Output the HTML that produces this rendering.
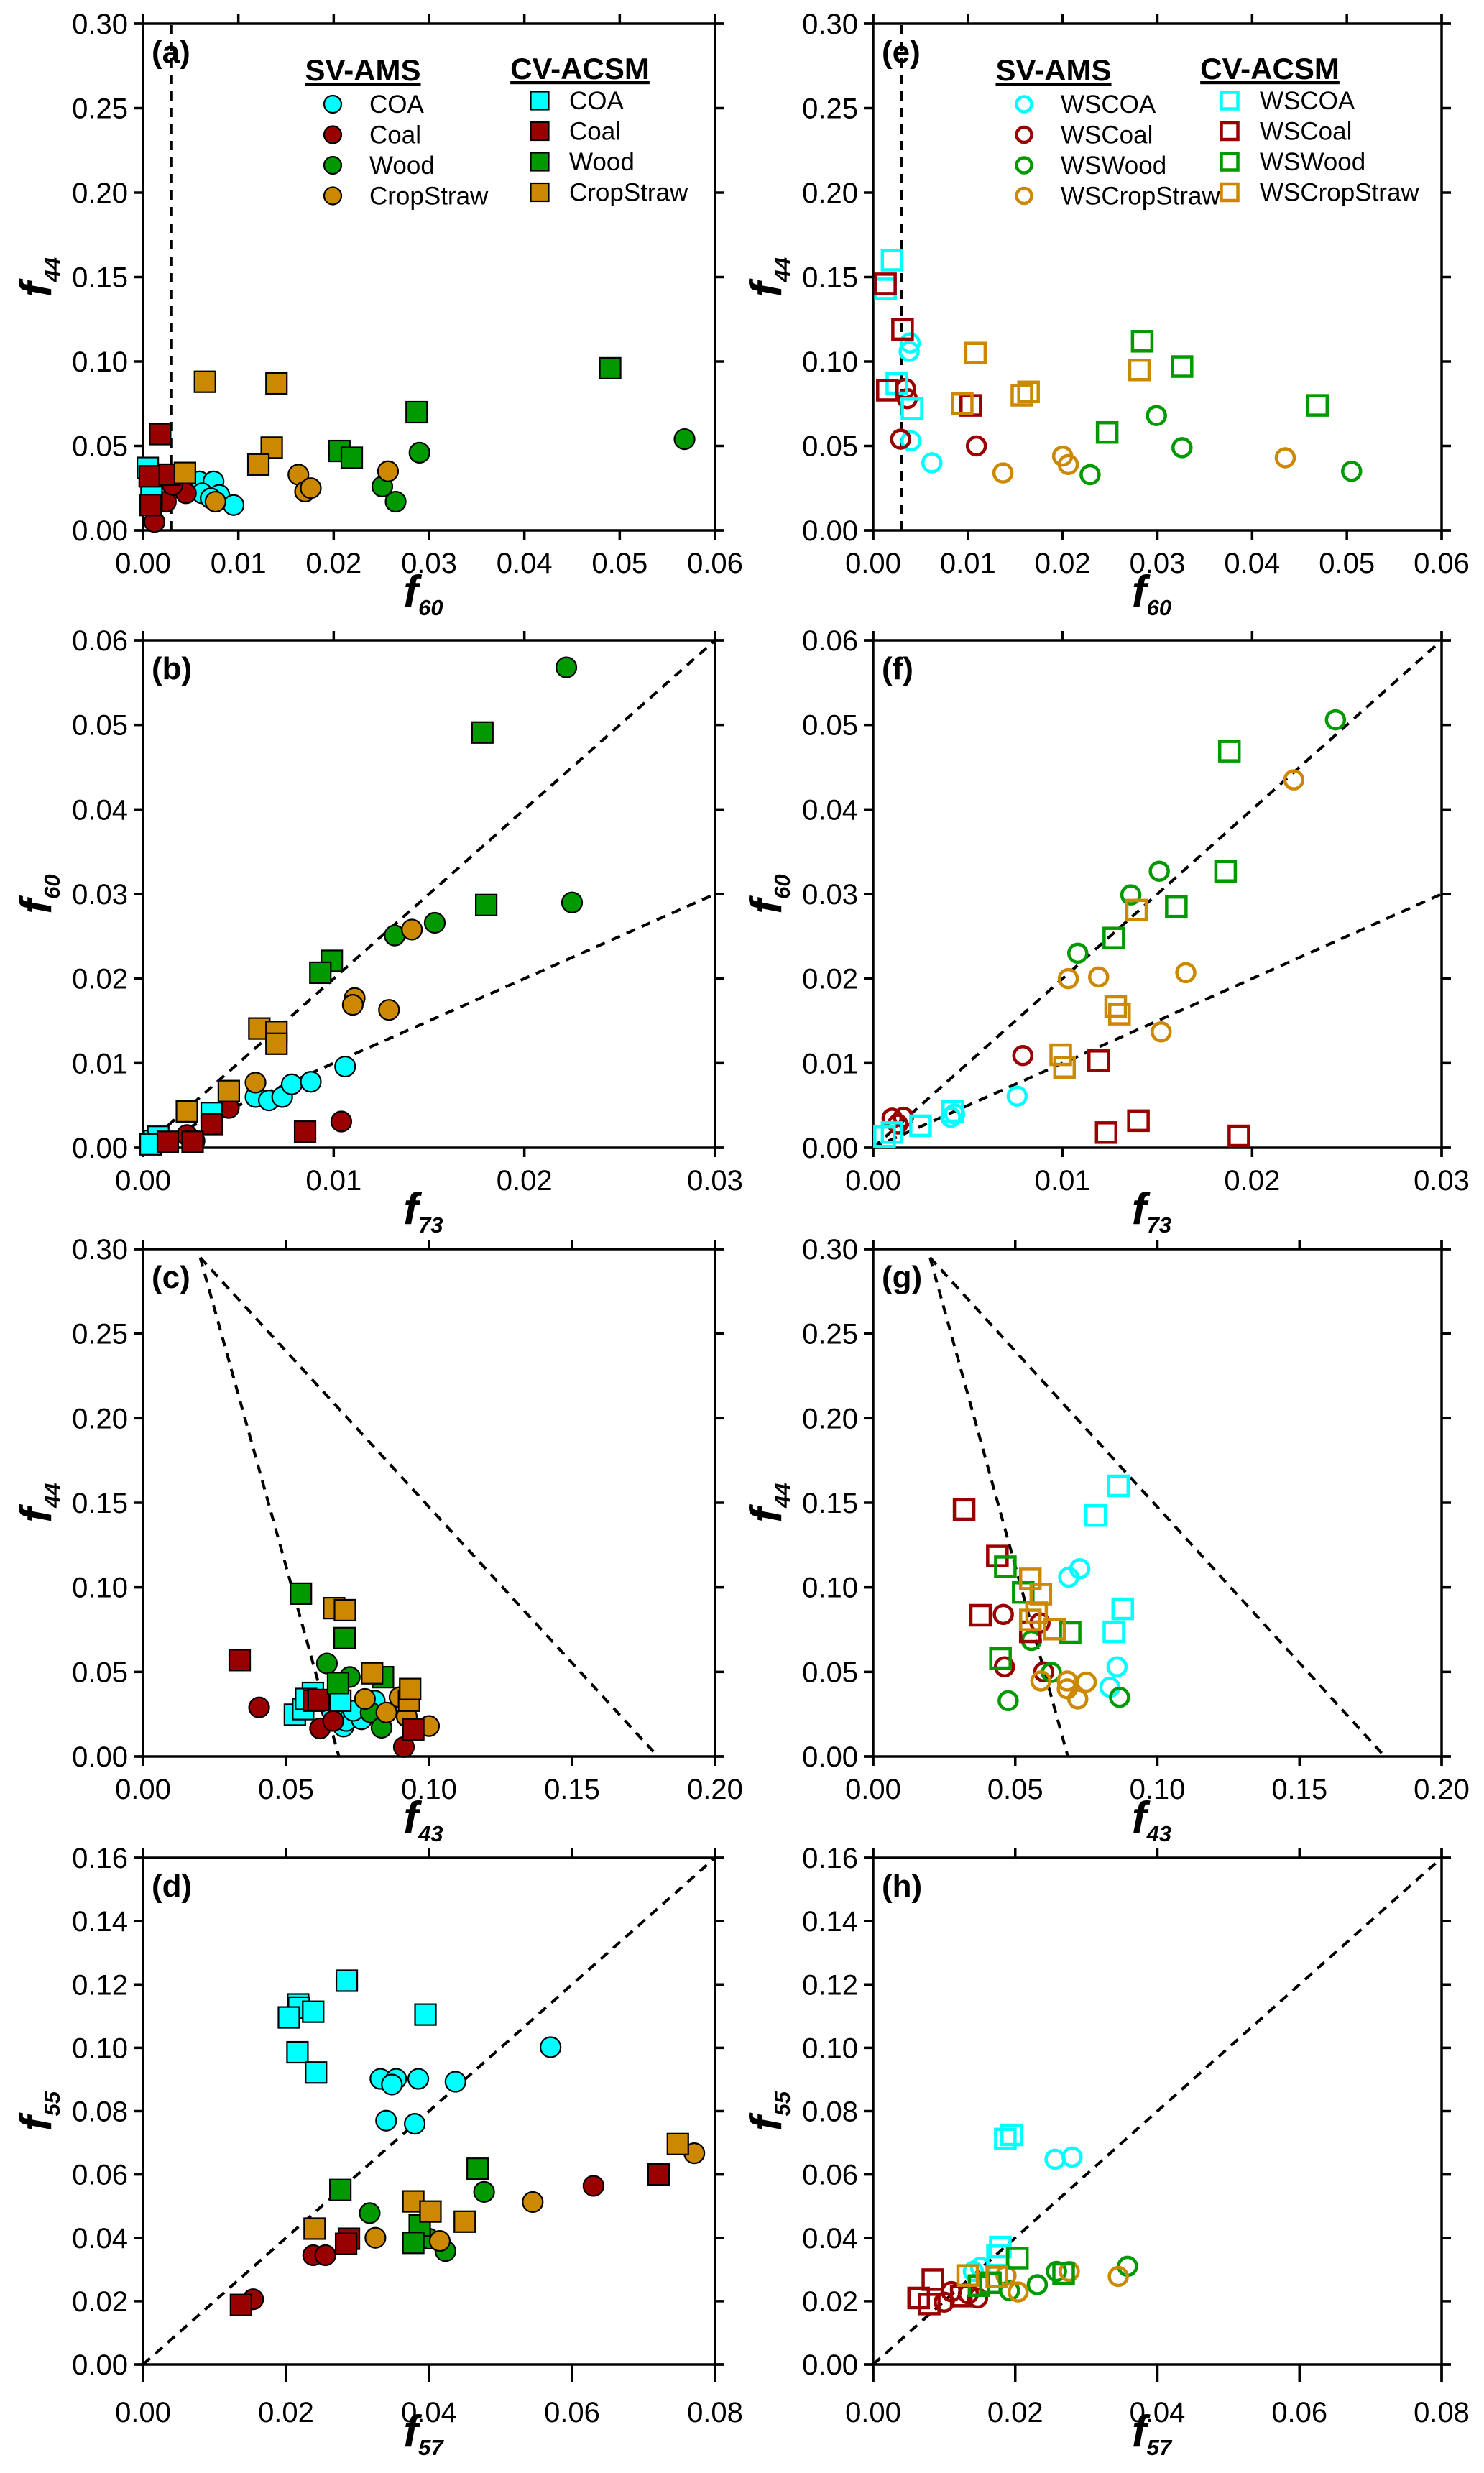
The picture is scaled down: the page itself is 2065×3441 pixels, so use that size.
<!DOCTYPE html>
<html><head><meta charset="utf-8"><style>
html,body{margin:0;padding:0;background:#fff;}
svg{display:block;}
text{font-family:"Liberation Sans",sans-serif;}
</style></head>
<body>
<svg id="fig" width="2065" height="3441" viewBox="0 0 2065 3441" xmlns="http://www.w3.org/2000/svg"></svg>
<script>
// ---------- DATA ----------
const a_COA_c=[[0.0059,0.029],[0.0074,0.029],[0.0062,0.022],[0.0080,0.021],[0.0095,0.015],[0.0071,0.019]];
const a_Coal_c=[[0.0012,0.005],[0.0024,0.017],[0.0045,0.022],[0.0031,0.027]];
const a_Wood_c=[[0.029,0.046],[0.0251,0.026],[0.0265,0.017],[0.0568,0.054]];
const a_Crop_c=[[0.0163,0.033],[0.0170,0.023],[0.0176,0.025],[0.0257,0.035],[0.0076,0.017]];
const a_COA_s=[[0.0005,0.037],[0.0009,0.025],[0.0009,0.020]];
const a_Coal_s=[[0.0018,0.057],[0.0007,0.032],[0.0028,0.033],[0.0008,0.015]];
const a_Wood_s=[[0.049,0.096],[0.0287,0.070],[0.0206,0.047],[0.0219,0.043]];
const a_Crop_s=[[0.0065,0.088],[0.014,0.087],[0.0135,0.049],[0.0121,0.039],[0.0044,0.034]];
const e_COA_c=[[0.0039,0.111],[0.0038,0.106],[0.004,0.053],[0.0062,0.040]];
const e_Coal_c=[[0.0034,0.084],[0.0036,0.078],[0.0029,0.054],[0.0109,0.050]];
const e_Wood_c=[[0.0299,0.068],[0.0326,0.049],[0.0229,0.033],[0.0505,0.035]];
const e_Crop_c=[[0.0137,0.034],[0.020,0.044],[0.0206,0.039],[0.0435,0.043]];
const e_COA_s=[[0.002,0.160],[0.0013,0.143],[0.0025,0.087],[0.0041,0.072]];
const e_Coal_s=[[0.0013,0.146],[0.0031,0.119],[0.0015,0.083],[0.0103,0.074]];
const e_Wood_s=[[0.0284,0.112],[0.0326,0.097],[0.0247,0.058],[0.0469,0.074]];
const e_Crop_s=[[0.0108,0.105],[0.0281,0.095],[0.0164,0.082],[0.0157,0.080],[0.0094,0.075]];
const b_COA_c=[[0.0059,0.006],[0.0066,0.0056],[0.0073,0.006],[0.0078,0.0075],[0.0088,0.0078],[0.0106,0.0096]];
const b_Coal_c=[[0.0045,0.0047],[0.0104,0.0031],[0.0023,0.0015],[0.0027,0.0008]];
const b_Wood_c=[[0.0222,0.0568],[0.0225,0.029],[0.0153,0.0266],[0.0132,0.0251]];
const b_Crop_c=[[0.0141,0.0258],[0.0111,0.0177],[0.011,0.0169],[0.0129,0.0163],[0.0059,0.0077]];
const b_COA_s=[[0.0006,0.0008],[0.0008,0.0013],[0.0036,0.0041],[0.0004,0.0004]];
const b_Coal_s=[[0.0085,0.0019],[0.0036,0.0028],[0.0013,0.0007],[0.0026,0.0007]];
const b_Wood_s=[[0.0178,0.0491],[0.018,0.0287],[0.0099,0.0221],[0.0093,0.0207]];
const b_Crop_s=[[0.0061,0.0141],[0.007,0.0137],[0.007,0.0123],[0.0045,0.0067],[0.0023,0.0043]];
const f_COA_c=[[0.0076,0.0061],[0.0043,0.004],[0.0041,0.0036]];
const f_Coal_c=[[0.0079,0.0109],[0.0016,0.0036],[0.001,0.0035],[0.0013,0.0028]];
const f_Wood_c=[[0.0244,0.0506],[0.0151,0.0327],[0.0136,0.0299],[0.0108,0.023]];
const f_Crop_c=[[0.0222,0.0435],[0.0103,0.020],[0.0119,0.0202],[0.0165,0.0207],[0.0152,0.0137]];
const f_COA_s=[[0.0025,0.0026],[0.0006,0.0013],[0.0010,0.0018],[0.0042,0.0043]];
const f_Coal_s=[[0.0119,0.0103],[0.0123,0.0018],[0.014,0.0032],[0.0193,0.0014]];
const f_Wood_s=[[0.0188,0.0469],[0.0186,0.0327],[0.016,0.0285],[0.0127,0.0248]];
const f_Crop_s=[[0.0139,0.0281],[0.0128,0.0167],[0.013,0.0158],[0.0099,0.011],[0.0101,0.0095]];
const c_COA_c=[[0.0701,0.0177],[0.071,0.021],[0.0764,0.022],[0.081,0.033],[0.0735,0.027],[0.066,0.027]];
const c_Coal_c=[[0.0406,0.029],[0.0619,0.0166],[0.0665,0.021],[0.0912,0.0056]];
const c_Wood_c=[[0.0643,0.055],[0.0723,0.047],[0.0796,0.026],[0.0834,0.017]];
const c_Crop_c=[[0.0776,0.034],[0.0851,0.026],[0.0897,0.035],[0.0922,0.0236],[0.10,0.018]];
const c_COA_s=[[0.0531,0.0247],[0.056,0.028],[0.0594,0.0376],[0.069,0.033],[0.057,0.034]];
const c_Coal_s=[[0.0338,0.057],[0.0597,0.033],[0.0614,0.0334],[0.0945,0.016]];
const c_Wood_s=[[0.0552,0.0963],[0.0705,0.070],[0.0682,0.0434],[0.0839,0.0469]];
const c_Crop_s=[[0.0668,0.0877],[0.0706,0.0865],[0.0801,0.0492],[0.093,0.033],[0.0934,0.0399]];
const g_COA_c=[[0.0688,0.106],[0.0727,0.111],[0.0858,0.053],[0.0833,0.041]];
const g_Coal_c=[[0.0458,0.084],[0.0587,0.079],[0.0462,0.053],[0.06,0.050]];
const g_Wood_c=[[0.0557,0.0686],[0.0627,0.0497],[0.0475,0.033],[0.0867,0.035]];
const g_Crop_c=[[0.059,0.0446],[0.0683,0.0446],[0.075,0.044],[0.072,0.034],[0.0683,0.04]];
const g_COA_s=[[0.0863,0.160],[0.0783,0.1425],[0.0878,0.0873],[0.0847,0.0737]];
const g_Coal_s=[[0.032,0.146],[0.0437,0.1185],[0.0378,0.0835],[0.0553,0.0737]];
const g_Wood_s=[[0.0465,0.1122],[0.0528,0.097],[0.0693,0.0733],[0.0448,0.058]];
const g_Crop_s=[[0.0553,0.105],[0.059,0.096],[0.0553,0.0807],[0.0638,0.0753],[0.0575,0.085]];
const d_COA_c=[[0.057,0.1002],[0.0332,0.0902],[0.0354,0.0902],[0.0348,0.0884],[0.0385,0.0902],[0.0437,0.0893],[0.034,0.077],[0.038,0.076]];
const d_Coal_c=[[0.0154,0.0206],[0.0238,0.0345],[0.0255,0.0345],[0.063,0.0564]];
const d_Wood_c=[[0.0317,0.0478],[0.0477,0.0545],[0.040,0.0397],[0.0423,0.0358]];
const d_Crop_c=[[0.0771,0.0667],[0.0545,0.0513],[0.0325,0.040],[0.0415,0.039]];
const d_COA_s=[[0.0285,0.1212],[0.0217,0.1137],[0.0218,0.1127],[0.0238,0.1114],[0.0204,0.1096],[0.0216,0.0986],[0.0242,0.0922],[0.0395,0.1105]];
const d_Coal_s=[[0.0137,0.0188],[0.0288,0.0397],[0.0284,0.0381],[0.0721,0.060]];
const d_Wood_s=[[0.0276,0.0551],[0.0468,0.0618],[0.0387,0.0439],[0.0378,0.0384]];
const d_Crop_s=[[0.0748,0.0696],[0.0378,0.0515],[0.0402,0.0483],[0.045,0.0451],[0.024,0.0429]];
const h_COA_c=[[0.0256,0.0648],[0.028,0.0655],[0.0151,0.0307],[0.0141,0.0294]];
const h_Coal_c=[[0.010,0.0197],[0.011,0.023],[0.0147,0.021],[0.0134,0.0223]];
const h_Wood_c=[[0.0358,0.031],[0.0231,0.0252],[0.0192,0.0233],[0.0258,0.0294]];
const h_Crop_c=[[0.0345,0.0278],[0.0276,0.0294],[0.0204,0.0229],[0.0187,0.0281]];
const h_COA_s=[[0.0195,0.0725],[0.0186,0.0712],[0.0179,0.0371],[0.0175,0.0343]];
const h_Coal_s=[[0.0084,0.0268],[0.0064,0.021],[0.0079,0.0191],[0.0124,0.0216]];
const h_Wood_s=[[0.0203,0.0336],[0.0165,0.0258],[0.0149,0.0249],[0.0268,0.0287]];
const h_Crop_s=[[0.0133,0.0281],[0.0174,0.0277]];
const ticks_f44=["0.00","0.05","0.10","0.15","0.20","0.25","0.30"];
const ticks_f60a=["0.00","0.01","0.02","0.03","0.04","0.05","0.06"];
const ticks_f73=["0.00","0.01","0.02","0.03"];
const ticks_f60b=["0.00","0.01","0.02","0.03","0.04","0.05","0.06"];
const ticks_f43=["0.00","0.05","0.10","0.15","0.20"];
const ticks_f57=["0.00","0.02","0.04","0.06","0.08"];
const ticks_f55=["0.00","0.02","0.04","0.06","0.08","0.10","0.12","0.14","0.16"];
const vline_f60=[[0.003,0],[0.003,0.3]];
const line_b1=[[0,0],[0.03,0.06]];
const line_b2=[[0,0],[0.03,0.03]];
const tri_left=[[0.02,0.295],[0.0685,0]];
const tri_right=[[0.02,0.295],[0.18,0]];
const line_d=[[0,0],[0.08,0.16]];

// ---------- DRAW ----------
const NS="http://www.w3.org/2000/svg";
const svg=document.getElementById('fig');
const COL={COA:"#00FFFF",Coal:"#990000",Wood:"#009900",Crop:"#CC8800"};
function mk(tag,attrs,parent){const e=document.createElementNS(NS,tag);for(const k in attrs)e.setAttribute(k,attrs[k]);(parent||svg).appendChild(e);return e;}

function panel(o){
  const g=mk('g',{});
  
  
  const L=o.left,R=o.right,T=o.top,B=o.bottom;
  const X=v=>L+(v-o.xmin)/(o.xmax-o.xmin)*(R-L);
  const Y=v=>B-(v-o.ymin)/(o.ymax-o.ymin)*(B-T);
  const tl=13;
  const ax=mk('g',{stroke:"#000","stroke-width":3.5,fill:"none"},g);
  
  
  mk('line',{x1:L-tl,y1:T,x2:R+tl,y2:T},ax);
  mk('line',{x1:L-tl,y1:B,x2:R+tl,y2:B},ax);
  mk('line',{x1:L,y1:T-tl,x2:L,y2:B+o.btl},ax);
  mk('line',{x1:R,y1:T-tl,x2:R,y2:B+o.btl},ax);
  const nx=o.xt.length;
  o.xt.forEach((lab,i)=>{
    const v=o.xmin+i*(o.xmax-o.xmin)/(nx-1);const x=X(v);
    mk('line',{x1:x,y1:B,x2:x,y2:B+o.btl},ax);mk('line',{x1:x,y1:T,x2:x,y2:T-tl},ax);
    const t=mk('text',{x:x,y:B+o.xlab,"font-size":40,"text-anchor":"middle",fill:"#000"},g);t.textContent=lab;
    
    
  });
  const ny=o.yt.length;
  o.yt.forEach((lab,i)=>{
    const v=o.ymin+i*(o.ymax-o.ymin)/(ny-1);const y=Y(v);
    mk('line',{x1:L,y1:y,x2:L-tl,y2:y},ax);mk('line',{x1:R,y1:y,x2:R+tl,y2:y},ax);
    const t=mk('text',{x:L-21,y:y+14,"font-size":40,"text-anchor":"end",fill:"#000"},g);t.textContent=lab;
    
    
  });
  const xt=mk('text',{x:(L+R)/2-8,y:B+o.xtitle,"font-size":62,"font-weight":"bold","font-style":"italic","text-anchor":"middle",fill:"#000"},g);
  
  
  xt.innerHTML='f<tspan font-size="31" dy="12">'+o.xsub+'</tspan>';
  const yt=mk('text',{x:0,y:0,"font-size":62,"font-weight":"bold","font-style":"italic","text-anchor":"middle",fill:"#000",transform:"translate("+(L-128)+","+((T+B)/2)+") rotate(-90)"},g);
  
  
  yt.innerHTML='f<tspan font-size="31" dy="12">'+o.ysub+'</tspan>';
  const pl=mk('text',{x:L+12,y:T+54,"font-size":44,"font-weight":"bold",fill:"#000"},g);
  pl.textContent='('+o.id+')';
  
  
  o.lines.forEach(ln=>{
    const l=mk('line',{x1:X(ln[0][0]),y1:Y(ln[0][1]),x2:X(ln[1][0]),y2:Y(ln[1][1]),stroke:"#000","stroke-width":4,"stroke-dasharray":"13,10"},g);
    
    
  });
  const series=[["COA",o.d.COA_c,"c"],["Coal",o.d.Coal_c,"c"],["Wood",o.d.Wood_c,"c"],["Crop",o.d.Crop_c,"c"],
                ["COA",o.d.COA_s,"s"],["Coal",o.d.Coal_s,"s"],["Wood",o.d.Wood_s,"s"],["Crop",o.d.Crop_s,"s"]];
  series.forEach(s=>{
    const sg=mk('g',{},g);
    
    
    s[1].forEach(p=>{
      const col=COL[s[0]];const cx=X(p[0]),cy=Y(p[1]);let m;
      if(s[2]=="c"){
        m=o.open?mk('circle',{cx:cx,cy:cy,r:12.5,fill:"none",stroke:col,"stroke-width":4.5},sg)
                :mk('circle',{cx:cx,cy:cy,r:14,fill:col,stroke:"#000","stroke-width":2.2},sg);
      } else {
        m=o.open?mk('rect',{x:cx-13.5,y:cy-13.5,width:27,height:27,fill:"none",stroke:col,"stroke-width":4.5},sg)
                :mk('rect',{x:cx-14.5,y:cy-14.5,width:29,height:29,fill:col,stroke:"#000","stroke-width":2.2},sg);
      }
      
      
    });
  });
  return g;
}
function pick(pre){return {COA_c:eval(pre+'_COA_c'),Coal_c:eval(pre+'_Coal_c'),Wood_c:eval(pre+'_Wood_c'),Crop_c:eval(pre+'_Crop_c'),COA_s:eval(pre+'_COA_s'),Coal_s:eval(pre+'_Coal_s'),Wood_s:eval(pre+'_Wood_s'),Crop_s:eval(pre+'_Crop_s')};}

const LX=[199,995],RX=[1215,2006];
const ROWS=[[33,738],[891,1597],[1738,2444],[2585,3290]];
const defs=[
 {id:'a',col:LX,row:0,xmax:0.06,ymax:0.3,xt:ticks_f60a,yt:ticks_f44,xsub:'60',ysub:'44',lines:[vline_f60],open:false},
 {id:'b',col:LX,row:1,xmax:0.03,ymax:0.06,xt:ticks_f73,yt:ticks_f60b,xsub:'73',ysub:'60',lines:[line_b1,line_b2],open:false},
 {id:'c',col:LX,row:2,xmax:0.2,ymax:0.3,xt:ticks_f43,yt:ticks_f44,xsub:'43',ysub:'44',lines:[tri_left,tri_right],open:false},
 {id:'d',col:LX,row:3,xmax:0.08,ymax:0.16,xt:ticks_f57,yt:ticks_f55,xsub:'57',ysub:'55',lines:[line_d],open:false},
 {id:'e',col:RX,row:0,xmax:0.06,ymax:0.3,xt:ticks_f60a,yt:ticks_f44,xsub:'60',ysub:'44',lines:[vline_f60],open:true},
 {id:'f',col:RX,row:1,xmax:0.03,ymax:0.06,xt:ticks_f73,yt:ticks_f60b,xsub:'73',ysub:'60',lines:[line_b1,line_b2],open:true},
 {id:'g',col:RX,row:2,xmax:0.2,ymax:0.3,xt:ticks_f43,yt:ticks_f44,xsub:'43',ysub:'44',lines:[tri_left,tri_right],open:true},
 {id:'h',col:RX,row:3,xmax:0.08,ymax:0.16,xt:ticks_f57,yt:ticks_f55,xsub:'57',ysub:'55',lines:[line_d],open:true}
];
defs.forEach(p=>{
  const last=p.row===3;
  panel({id:p.id,left:p.col[0],right:p.col[1],top:ROWS[p.row][0],bottom:ROWS[p.row][1],xmin:0,xmax:p.xmax,ymin:0,ymax:p.ymax,
    xt:p.xt,yt:p.yt,xsub:p.xsub,ysub:p.ysub,lines:p.lines,open:p.open,d:pick(p.id),
    btl:last?24:13,xlab:last?80:59,xtitle:last?114:106});
});

function legend(o){
  const g=mk('g',{});
  
  
  const h1=mk('text',{x:o.h1x,y:112,"font-size":42,"font-weight":"bold","text-anchor":"middle",fill:"#000","text-decoration":"underline"},g);
  h1.textContent='SV-AMS';
  
  
  const h2=mk('text',{x:o.h2x,y:110,"font-size":42,"font-weight":"bold","text-anchor":"middle",fill:"#000","text-decoration":"underline"},g);
  h2.textContent='CV-ACSM';
  
  
  const keys=["COA","Coal","Wood","Crop"];
  keys.forEach((k,i)=>{
    const col=COL[k];const name=o.names[i];
    const cy=145+i*42.5, sy=140+i*42.5;
    const c=o.open?mk('circle',{cx:o.cx,cy:cy,r:10.5,fill:"none",stroke:col,"stroke-width":4.5},g)
                  :mk('circle',{cx:o.cx,cy:cy,r:12,fill:col,stroke:"#000","stroke-width":2.2},g);
    
    
    const t1=mk('text',{x:o.tx,y:cy+12,"font-size":35,fill:"#000"},g);t1.textContent=name;
    
    
    const s=o.open?mk('rect',{x:o.sx-11.5,y:sy-11.5,width:23,height:23,fill:"none",stroke:col,"stroke-width":4.5},g)
                  :mk('rect',{x:o.sx-12.5,y:sy-12.5,width:25,height:25,fill:col,stroke:"#000","stroke-width":2.2},g);
    
    
    const t2=mk('text',{x:o.stx,y:sy+12,"font-size":35,fill:"#000"},g);t2.textContent=name;
    
    
  });
}
legend({id:'a',h1x:505,h2x:807,cx:463,tx:514,sx:751,stx:792,open:false,names:["COA","Coal","Wood","CropStraw"]});
legend({id:'e',h1x:1466,h2x:1767,cx:1425,tx:1476,sx:1711,stx:1753,open:true,names:["WSCOA","WSCoal","WSWood","WSCropStraw"]});
</script>
</body></html>
